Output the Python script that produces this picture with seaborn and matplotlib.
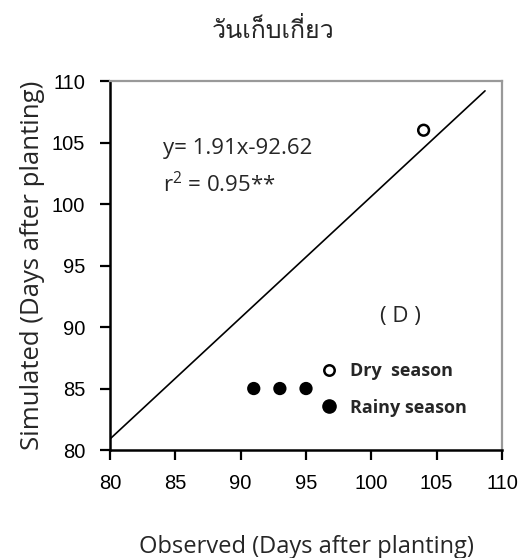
import matplotlib
matplotlib.use("Agg")
import matplotlib.pyplot as plt
from matplotlib import font_manager
from matplotlib.ft2font import FT2Font
from matplotlib.lines import Line2D
import seaborn as sns
import pandas as pd

# Observed vs simulated harvest day
season = ["Dry season", "Rainy season", "Rainy season", "Rainy season"]
observed = [104, 91, 93, 95]
simulated = [106, 85, 85, 85]

# Fitted line end points (observed, simulated)
line_x = [80, 108.7]
line_y = [80.9, 109.2]

title = "วันเก็บเกี่ยว"
equation = "y= 1.91x-92.62"
r2_text = "r$^2$ = 0.95**"
panel = "( D )"
xlabel = "Observed (Days after planting)"
ylabel = "Simulated (Days after planting)"
ticks = [80, 85, 90, 95, 100, 105, 110]

sns.set_theme(style="white")


def thai_family():
    for f in font_manager.fontManager.ttflist:
        try:
            cmap = FT2Font(f.fname).get_charmap()
        except Exception:
            continue
        if all(ord(c) in cmap for c in title):
            return f.name
    return "DejaVu Sans"


thai = thai_family()
text_fam = ["Open Sans", "DejaVu Sans"]
plt.rcParams["font.family"] = ["Liberation Sans", "DejaVu Sans"]
plt.rcParams["mathtext.fontset"] = "custom"
plt.rcParams["mathtext.rm"] = "Open Sans"

df = pd.DataFrame({"Observed": observed, "Simulated": simulated, "Season": season})

fig = plt.figure(figsize=(5.31, 5.58), dpi=100)
ax = fig.add_axes([0.2072, 0.1935, 0.7382, 0.6613])

sns.lineplot(x=line_x, y=line_y, ax=ax, color="black", linewidth=1.2)
sns.scatterplot(data=df, x="Observed", y="Simulated", hue="Season",
                palette={"Dry season": "white", "Rainy season": "black"},
                edgecolor="black", linewidth=1.8, s=60, ax=ax, legend=False, zorder=3)

ax.set_xlim(80, 110)
ax.set_ylim(80, 110)
ax.set_xticks(ticks)
ax.set_yticks(ticks)
ax.tick_params(axis="both", direction="out", length=7, width=1.6, labelsize=14.5,
               colors="black", bottom=True, left=True)
ax.tick_params(axis="x", pad=10)
ax.tick_params(axis="y", pad=11)
for s in ["left", "bottom"]:
    ax.spines[s].set_color("black")
    ax.spines[s].set_linewidth(1.8)
for s in ["top", "right"]:
    ax.spines[s].set_color("#999999")
    ax.spines[s].set_linewidth(1.6)

ax.set_xlabel(xlabel, fontsize=17, family=text_fam)
ax.set_ylabel(ylabel, fontsize=18.5, family=text_fam)
ax.xaxis.set_label_coords(0.5, -0.262)
ax.xaxis.label.set_va("center")
ax.yaxis.set_label_coords(-0.199, 0.5)
ax.yaxis.label.set_va("center")

fig.text(0.515, 1 - 30 / 558, title, fontsize=18, family=[thai, "DejaVu Sans"],
         ha="center", va="center")

ax.text(0.135, 0.818, equation, transform=ax.transAxes, fontsize=16, family=text_fam, va="center")
ax.text(0.135, 0.718, r2_text, transform=ax.transAxes, fontsize=16, family=text_fam, va="center")
ax.text(0.742, 0.363, panel, transform=ax.transAxes, fontsize=16, family=text_fam,
        ha="center", va="center")

handles = [
    Line2D([], [], marker="o", linestyle="none", markerfacecolor="white",
           markeredgecolor="black", markeredgewidth=1.8, markersize=7.5, label="Dry  season"),
    Line2D([], [], marker="o", linestyle="none", markerfacecolor="black",
           markeredgecolor="black", markersize=9.5, label="Rainy season"),
]
ax.legend(handles=handles, loc="upper left", bbox_to_anchor=(0.535, 0.239), frameon=False,
          prop={"family": text_fam, "size": 13, "weight": "bold"},
          handlelength=1.0, handletextpad=0.7, labelspacing=1.05,
          borderpad=0, borderaxespad=0)

fig.savefig("out.png", dpi=100)
